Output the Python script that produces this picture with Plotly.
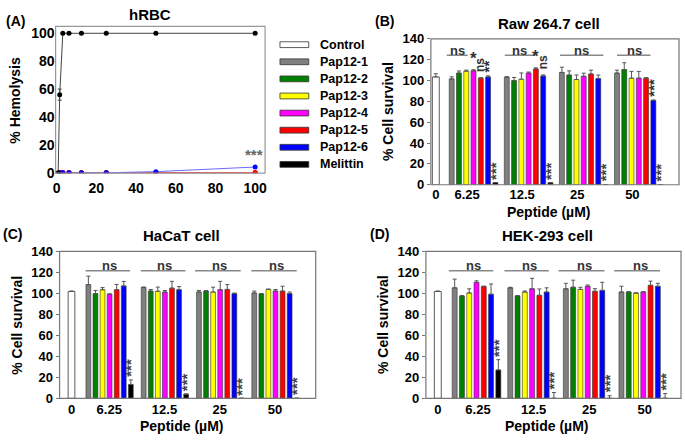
import plotly.graph_objects as go

W, H = 685, 443

# ---------------- data ----------------
series_names = ["Control", "Pap12-1", "Pap12-2", "Pap12-3", "Pap12-4", "Pap12-5", "Pap12-6", "Melittin"]
series_colors = ["#ffffff", "#808080", "#008000", "#ffff00", "#ff00ff", "#ff0000", "#0000ff", "#000000"]
conc_labels = ["0", "6.25", "12.5", "25", "50"]

# Panel A: hemolysis of hRBC
mel_conc = [0.78, 1.56, 3.125, 6.25, 12.5, 25, 50, 100]
mel_hemo = [0, 56, 100, 100, 100, 100, 100, 100]
mel_hemo_err = [0, 4, 0, 0, 0, 0, 0, 0]
pap_conc = [1.56, 3.125, 6.25, 12.5, 25, 50, 100]
pap1_hemo = [0, 0, 0, 0, 0, 0, 0]
pap2_hemo = [0, 0, 0, 0, 0, 0, 0]
pap3_hemo = [0, 0, 0, 0, 0, 0, 0]
pap4_hemo = [0, 0, 0, 0, 0, 0, 0]
pap5_hemo = [0, 0, 0, 0, 0, 0, 0]
pap6_hemo = [0, 0, 0, 0, 0, 0.8, 4.1]

# Panel B: Raw 264.7 (rows = 6.25, 12.5, 25, 50; cols = Pap12-1..6, Melittin)
raw_control, raw_control_err = 103.5, 3
raw_surv = [[101.6, 107.2, 109.0, 109.4, 102.3, 103.5, 2.1],
            [103.2, 100.0, 101.3, 107.2, 111.2, 104.4, 2.0],
            [107.8, 105.3, 101.0, 104.1, 106.3, 101.9, 0],
            [107.2, 110.6, 102.3, 102.3, 102.3, 80.9, 0]]
raw_err = [[2, 2, 1, 1, 0.5, 1, 0],
           [0.5, 3, 6, 1, 1, 1, 0],
           [5, 4, 4.3, 3, 3.7, 3.4, 0],
           [2.8, 6.5, 6.5, 6.5, 0.5, 0.5, 0]]

# Panel C: HaCaT
hacat_control, hacat_control_err = 101.8, 0.5
hacat_surv = [[108.4, 99.8, 103.5, 99.2, 103.5, 107.1, 13.2],
              [105.6, 102.2, 102.0, 101.3, 105.0, 103.5, 4.0],
              [101.3, 102.2, 101.3, 103.5, 103.8, 99.8, 0],
              [100.4, 99.5, 103.8, 102.2, 102.2, 99.8, 0]]
hacat_err = [[8, 3, 2, 0.3, 5, 4.3, 4.3],
             [0.5, 1.5, 4, 1.5, 6.5, 3, 0],
             [1.5, 0.5, 4.6, 8, 4.6, 0.5, 0],
             [1.8, 0.3, 0.3, 1.5, 4.6, 1.5, 0]]

# Panel D: HEK-293
hek_control, hek_control_err = 101.8, 0.5
hek_surv = [[105.3, 97.6, 100.4, 110.5, 106.5, 99.2, 27.0],
            [105.3, 97.6, 101.3, 104.4, 98.2, 101.3, 0],
            [104.4, 105.9, 103.8, 106.8, 102.0, 102.9, 0],
            [101.3, 101.3, 100.4, 101.3, 107.7, 106.8, 0]]
hek_err = [[8.3, 0.3, 4, 1.5, 0.5, 9.8, 9.8],
           [0.5, 0.3, 1, 10, 6, 4, 5.5],
           [5.2, 6.7, 2, 1.2, 2.5, 7.7, 2.5],
           [5.5, 0.3, 0, 0.3, 4, 2.8, 4.5]]

# ---------------- layout helpers ----------------
FONT = "Liberation Sans"
def px(x):
    return x / W
def py(y):
    return 1 - y / H

fig = go.Figure()
annotations = []
shapes = []

panels = {
    "A": dict(box=(53, 20, 264, 172)),
    "B": dict(box=(431, 33, 681, 184), step=7.33, ctrl=436, first=452, gap=55.5, lab=15.5, stand=0,
              data=(raw_control, raw_control_err, raw_surv, raw_err), ax="2", title="Raw 264.7 cell",
              tag="(B)", xt=28),
    "C": dict(box=(57, 253, 315, 405), step=7.13, ctrl=69, first=86, gap=55.7, lab=21, stand=2,
              data=(hacat_control, hacat_control_err, hacat_surv, hacat_err), ax="3", title="HaCaT cell",
              tag="(C)", xt=29),
    "D": dict(box=(426, 253, 683, 405), step=7.33, ctrl=438, first=455, gap=56, lab=23.5, stand=2,
              data=(hek_control, hek_control_err, hek_surv, hek_err), ax="4", title="HEK-293 cell",
              tag="(D)", xt=29),
}

tick_font = dict(family=FONT, size=13, color="black", weight="bold")
frame_col = "#777777"

# ---------------- Panel A ----------------
a_series = [pap1_hemo, pap2_hemo, pap3_hemo, pap4_hemo, pap5_hemo]
for k, vals in enumerate(a_series):
    fig.add_trace(go.Scatter(x=pap_conc, y=vals, mode="lines+markers", xaxis="x", yaxis="y",
                             line=dict(color=series_colors[k + 1], width=1),
                             marker=dict(color=series_colors[k + 1], size=5), showlegend=False))
fig.add_trace(go.Scatter(x=pap_conc, y=pap5_hemo, mode="lines+markers", xaxis="x", yaxis="y",
                         line=dict(color="#ff5555", width=1), marker=dict(color="#ff0000", size=5),
                         showlegend=False))
fig.add_trace(go.Scatter(x=pap_conc, y=pap6_hemo, mode="lines+markers", xaxis="x", yaxis="y",
                         line=dict(color="#6a6aff", width=1), marker=dict(color="#0000ff", size=5),
                         showlegend=False))
fig.add_trace(go.Scatter(x=mel_conc, y=mel_hemo, mode="lines+markers", xaxis="x", yaxis="y",
                         line=dict(color="#444444", width=1), marker=dict(color="#000000", size=5),
                         error_y=dict(type="data", array=mel_hemo_err, color="#444", thickness=1, width=2),
                         showlegend=False))
bx0, by0, bx1, by1 = panels["A"]["box"]
a_tick_font = dict(family=FONT, size=14, color="black", weight="bold")
fig.update_layout(
    xaxis=dict(domain=[px(bx0), px(bx1)], range=[-0.5, 105], tickvals=[0, 20, 40, 60, 80, 100],
               showgrid=False, zeroline=False, showline=False, ticks="", tickfont=a_tick_font,
               ticklabelstandoff=5, anchor="y"),
    yaxis=dict(domain=[py(by1), py(by0)], range=[-0.3, 105], tickvals=[0, 20, 40, 60, 80, 100],
               showgrid=False, zeroline=False, showline=False, ticks="", tickfont=a_tick_font,
               anchor="x"),
)
shapes.append(dict(type="rect", xref="paper", yref="paper", x0=px(bx0), x1=px(bx1), y0=py(by1), y1=py(by0),
                   line=dict(color="#999", width=1.2), layer="above"))
annotations.append(dict(x=99.5, y=5.5, xref="x", yref="y", text="<b>***</b>", showarrow=False,
                        font=dict(family=FONT, size=15, color="#666"), xanchor="center", yanchor="bottom"))
annotations.append(dict(x=px(148), y=py(8), xref="paper", yref="paper", text="<b>hRBC</b>", showarrow=False,
                        font=dict(family=FONT, size=15), xanchor="center", yanchor="middle"))
annotations.append(dict(x=px(1), y=py(15), xref="paper", yref="paper", text="<b>(A)</b>", showarrow=False,
                        font=dict(family=FONT, size=14), xanchor="left", yanchor="middle"))
annotations.append(dict(x=px(12), y=py(96), xref="paper", yref="paper", text="<b>% Hemolysis</b>",
                        showarrow=False, textangle=-90, font=dict(family=FONT, size=14),
                        xanchor="center", yanchor="middle"))

# legend (drawn manually)
for k, (nm, col) in enumerate(zip(series_names, series_colors)):
    yc = 39 + k * 17.7
    shapes.append(dict(type="rect", xref="paper", yref="paper", x0=px(279), x1=px(308),
                       y0=py(yc + 3), y1=py(yc - 3), fillcolor=col, line=dict(color="#333", width=0.8)))
    annotations.append(dict(x=px(317), y=py(yc), xref="paper", yref="paper", text="<b>%s</b>" % nm,
                            showarrow=False, font=dict(family=FONT, size=12.5), xanchor="left",
                            yanchor="middle"))

# ---------------- Bar panels ----------------
def slot(p, xpx):
    return (xpx - p["ctrl"]) / p["step"]

for key in ["B", "C", "D"]:
    p = panels[key]
    ax = p["ax"]
    ctrl, ctrl_err, surv, err = p["data"]
    first = slot(p, p["first"])
    gap = p["gap"] / p["step"]
    x0, y0, x1, y1 = p["box"]
    fig.add_trace(go.Bar(x=[0], y=[ctrl], width=0.95, xaxis="x" + ax, yaxis="y" + ax,
                         marker=dict(color=series_colors[0], line=dict(color="#333", width=0.8)),
                         error_y=dict(type="data", symmetric=False, array=[ctrl_err], arrayminus=[0],
                                      color="#555", thickness=1, width=2),
                         showlegend=False))
    for i in range(7):
        xs = [first + g * gap + i for g in range(4)]
        ys = [surv[g][i] for g in range(4)]
        es = [err[g][i] for g in range(4)]
        fig.add_trace(go.Bar(x=xs, y=ys, width=0.68, xaxis="x" + ax, yaxis="y" + ax,
                             marker=dict(color=series_colors[i + 1], line=dict(color="#333", width=0.6)),
                             error_y=dict(type="data", symmetric=False, array=es, arrayminus=[0] * 4,
                                          color="#555", thickness=1, width=2),
                             showlegend=False))
    tickvals = [0] + [first + g * gap + p["lab"] / p["step"] for g in range(4)]
    fig.update_layout(**{
        "xaxis" + ax: dict(domain=[px(x0), px(x1)], range=[slot(p, x0), slot(p, x1)], tickvals=tickvals,
                           ticktext=conc_labels, showgrid=False, zeroline=False, showline=False,
                           ticks="", tickfont=tick_font, ticklabelstandoff=p["stand"], anchor="y" + ax),
        "yaxis" + ax: dict(domain=[py(y1), py(y0)], range=[0, 140], dtick=20, showgrid=False,
                           zeroline=False, showline=False, ticks="outside", ticklen=3, tickcolor="#777",
                           tickfont=tick_font, anchor="x" + ax),
    })
    shapes.append(dict(type="rect", xref="paper", yref="paper", x0=px(x0), x1=px(x1), y0=py(y1), y1=py(y0),
                       line=dict(color=frame_col, width=1.2), layer="above"))
    annotations.append(dict(x=px((x0 + x1) / 2 - 6), y=py(y0 - 16), xref="paper", yref="paper",
                            text="<b>%s</b>" % p["title"], showarrow=False, font=dict(family=FONT, size=15),
                            xanchor="center", yanchor="middle"))
    annotations.append(dict(x=px(x0 - 47), y=py(y0 - 18), xref="paper", yref="paper",
                            text="<b>%s</b>" % p["tag"], showarrow=False, font=dict(family=FONT, size=14),
                            xanchor="center", yanchor="middle"))
    annotations.append(dict(x=px(x0 - 43), y=py((y0 + y1) / 2), xref="paper", yref="paper",
                            text="<b>% Cell survival</b>", showarrow=False, textangle=-90,
                            font=dict(family=FONT, size=14), xanchor="center", yanchor="middle"))
    annotations.append(dict(x=px((x0 + x1) / 2 - 6), y=py(y1 + p["xt"]), xref="paper", yref="paper",
                            text="<b>Peptide (\u00b5M)</b>", showarrow=False, font=dict(family=FONT, size=14),
                            xanchor="center", yanchor="middle"))
    for g in range(4):
        top = surv[g][6] + err[g][6]
        annotations.append(dict(x=first + g * gap + 6, y=top + 1.0, xref="x" + ax, yref="y" + ax,
                                text="<b>***</b>", textangle=-90, showarrow=False,
                                font=dict(family=FONT, size=15, color="#444"),
                                xanchor="center", yanchor="bottom"))
    p["first_s"], p["gap_s"] = first, gap

ns_lines = {
    "B": [(-0.68, 2.2), (-0.27, 3.95), (-0.27, 5.7), (0.0, 4.6)],
    "C": [(-0.4, 5.9), (-0.4, 5.9), (-0.56, 5.9), (-0.42, 6.0)],
    "D": [(-0.8, 5.3), (-0.8, 5.3), (-1.0, 5.3), (-1.0, 5.3)],
}
ns_text_off = {"B": [0.75, 1.8, 2.7, 2.45], "C": [2.95, 2.95, 2.95, 3.1], "D": [2.6, 2.6, 2.6, 2.6]}
ns_y = {"B": (124.2, 128.8), "C": (121.6, 126.2), "D": (121.6, 126.2)}
for key in ["B", "C", "D"]:
    p = panels[key]
    ax = p["ax"]
    for g in range(4):
        base = p["first_s"] + g * p["gap_s"]
        a, b = ns_lines[key][g]
        ly, ty = ns_y[key]
        shapes.append(dict(type="line", xref="x" + ax, yref="y" + ax, x0=base + a, x1=base + b, y0=ly, y1=ly,
                           line=dict(color="#888", width=1.5)))
        annotations.append(dict(x=base + ns_text_off[key][g], y=ty, xref="x" + ax, yref="y" + ax,
                                text="<b>ns</b>", showarrow=False, font=dict(family=FONT, size=13, color="#333"),
                                xanchor="center", yanchor="middle"))

pb = panels["B"]
def bslot(g, i):
    return pb["first_s"] + g * pb["gap_s"] + i
extra = [
    (0, 3, 110.5, "*", 0, 17),
    (0, 4, 106.0, "ns", -90, 12),
    (0, 5, 106.0, "**", -90, 15),
    (1, 4, 112.5, "*", 0, 17),
    (1, 5, 109.0, "ns", -90, 12),
    (3, 5, 83.0, "***", -90, 15),
]
for g, i, yv, txt, ang, sz in extra:
    annotations.append(dict(x=bslot(g, i), y=yv, xref="x2", yref="y2", text="<b>%s</b>" % txt,
                            textangle=ang, showarrow=False, font=dict(family=FONT, size=sz, color="#333"),
                            xanchor="center", yanchor="bottom"))

fig.update_layout(width=W, height=H, margin=dict(l=0, r=0, t=0, b=0), plot_bgcolor="white",
                  paper_bgcolor="white", barmode="overlay", showlegend=False,
                  annotations=annotations, shapes=shapes, font=dict(family=FONT, color="black"))

fig.write_html("out.html", config={"displayModeBar": False},
               post_script="document.body.style.margin='0px';")
